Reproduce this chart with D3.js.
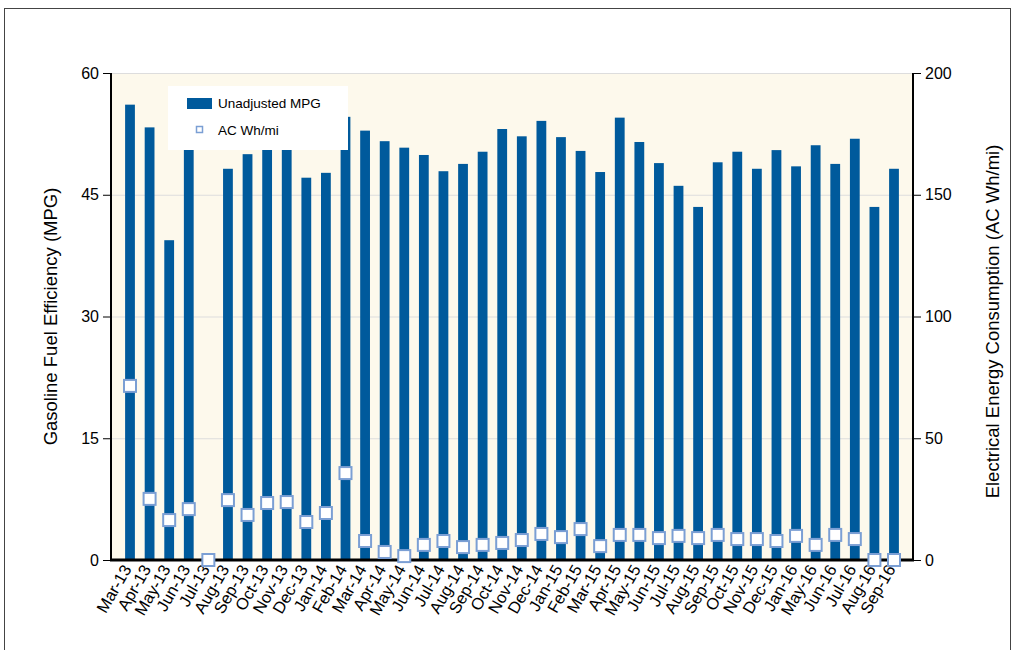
<!DOCTYPE html>
<html>
<head>
<meta charset="utf-8">
<script src="https://cdn.jsdelivr.net/npm/d3@7"></script>
<style>
  body { margin: 0; background: #fff; }
  text { font-family: "Liberation Sans", Arial, sans-serif; }
</style>
</head>
<body>
<svg id="chart" width="1015" height="650"></svg>
<script>
// Months shown on the x axis
const months = ["Mar-13", "Apr-13", "May-13", "Jun-13", "Jul-13", "Aug-13", "Sep-13", "Oct-13",
  "Nov-13", "Dec-13", "Jan-14", "Feb-14", "Mar-14", "Apr-14", "May-14", "Jun-14", "Jul-14",
  "Aug-14", "Sep-14", "Oct-14", "Nov-14", "Dec-14", "Jan-15", "Feb-15", "Mar-15", "Apr-15",
  "May-15", "Jun-15", "Jul-15", "Aug-15", "Sep-15", "Oct-15", "Nov-15", "Dec-15", "Jan-16",
  "May-16", "Jun-16", "Jul-16", "Aug-16", "Sep-16"];

// Unadjusted MPG (null = no bar)
const mpg = [56.1, 53.3, 39.4, 52.0, null, 48.2, 50.0, 51.5, 52.0, 47.1, 47.7, 54.6, 52.9,
  51.6, 50.8, 49.9, 47.9, 48.8, 50.3, 53.1, 52.2, 54.1, 52.1, 50.4, 47.8, 54.5, 51.5, 48.9,
  46.1, 43.5, 49.0, 50.3, 48.2, 50.5, 48.5, 51.1, 48.8, 51.9, 43.5, 48.2];

// AC Wh/mi
const whmi = [71.5, 25.1, 16.4, 20.9, 0, 24.6, 18.5, 23.4, 23.8, 15.6, 19.3, 35.7, 7.8,
  3.3, 1.6, 6.2, 7.8, 5.3, 6.2, 7.0, 8.2, 10.7, 9.4, 12.7, 5.7, 10.3, 10.3, 9.0,
  9.9, 9.0, 10.3, 8.6, 8.6, 7.8, 9.9, 6.2, 10.3, 8.6, 0, 0];

const leftTicks = [0, 15, 30, 45, 60];
const rightTicks = [0, 50, 100, 150, 200];

const barColor = "#005a9c";
const markerStroke = "#7b9fd4";
const font = '"Liberation Sans", Arial, sans-serif';

const svg = d3.select("#chart");
const margin = {left: 111, right: 102, top: 73, bottom: 90};
const W = 1015, H = 650;
const plotW = W - margin.left - margin.right;
const plotH = H - margin.top - margin.bottom;

// outer frame
svg.append("rect")
  .attr("x", 4.5).attr("y", 8.5)
  .attr("width", 1006).attr("height", 660)
  .attr("fill", "none").attr("stroke", "#444").attr("stroke-width", 1);

const g = svg.append("g").attr("transform", `translate(${margin.left},${margin.top})`);

const x = d3.scaleBand().domain(months).range([0, plotW]).paddingInner(0.5).paddingOuter(0.72);
const yL = d3.scaleLinear().domain([0, 60]).range([plotH, 0]);
const yR = d3.scaleLinear().domain([0, 200]).range([plotH, 0]);

// plot background
g.append("rect").attr("width", plotW).attr("height", plotH).attr("fill", "#fdf9ec");

// grid
g.selectAll(".grid").data(leftTicks.slice(1)).enter().append("line")
  .attr("x1", 0).attr("x2", plotW)
  .attr("y1", d => yL(d) + 0.5).attr("y2", d => yL(d) + 0.5)
  .attr("stroke", "#dddddd").attr("stroke-width", 1);

// bars
g.selectAll(".bar").data(months.map((m, i) => ({m, v: mpg[i]})).filter(d => d.v != null))
  .enter().append("rect")
  .attr("x", d => x(d.m)).attr("width", x.bandwidth())
  .attr("y", d => yL(d.v)).attr("height", d => plotH - yL(d.v))
  .attr("fill", barColor);

// axes
const axL = g.append("g").call(d3.axisLeft(yL).tickValues(leftTicks).tickSize(8).tickPadding(4));
const axR = g.append("g").attr("transform", `translate(${plotW},0)`)
  .call(d3.axisRight(yR).tickValues(rightTicks).tickSize(8).tickPadding(4));
[axL, axR].forEach(a => {
  a.select(".domain").attr("stroke", "#000").attr("stroke-width", 2).attr("d", `M0,0V${plotH}`);
  a.selectAll("text").attr("font-size", 16).attr("fill", "#000").style("font-family", font);
  a.selectAll(".tick line").attr("stroke", "#000");
});

const axB = g.append("g").attr("transform", `translate(0,${plotH})`)
  .call(d3.axisBottom(x).tickSize(0).tickPadding(0));
axB.select(".domain").attr("stroke", "#000").attr("stroke-width", 3).attr("d", `M-1,0H${plotW + 1}`);
axB.selectAll("text")
  .attr("font-size", 16.5).attr("fill", "#000")
  .style("font-family", font)
  .attr("text-anchor", "end").attr("dy", null).attr("y", 0)
  .attr("transform", "translate(2,9) rotate(-60)");

// markers
const ms = 12;
g.selectAll(".mk").data(months.map((m, i) => ({m, v: whmi[i]})))
  .enter().append("rect")
  .attr("x", d => x(d.m) + x.bandwidth() / 2 - ms / 2)
  .attr("y", d => yR(d.v) - ms / 2)
  .attr("width", ms).attr("height", ms)
  .attr("fill", "#fff").attr("stroke", markerStroke).attr("stroke-width", 2);

// axis titles
svg.append("text")
  .attr("transform", `translate(57,${margin.top + plotH / 2}) rotate(-90)`)
  .attr("text-anchor", "middle").attr("font-size", 18.5).text("Gasoline Fuel Efficiency (MPG)");
svg.append("text")
  .attr("transform", `translate(999,${margin.top + plotH / 2 + 5}) rotate(-90)`)
  .attr("text-anchor", "middle").attr("font-size", 18.5).text("Electrical Energy Consumption (AC Wh/mi)");

// legend
const lg = svg.append("g").attr("transform", "translate(168,86)");
lg.append("rect").attr("width", 180).attr("height", 64).attr("fill", "#fff");
lg.append("rect").attr("x", 19).attr("y", 12).attr("width", 25).attr("height", 11).attr("fill", barColor);
lg.append("text").attr("x", 50).attr("y", 22).attr("font-size", 13.5).text("Unadjusted MPG");
lg.append("rect").attr("x", 28.5).attr("y", 40.5).attr("width", 6).attr("height", 6)
  .attr("fill", "#fff").attr("stroke", markerStroke).attr("stroke-width", 1.5);
lg.append("text").attr("x", 50).attr("y", 49).attr("font-size", 13.5).text("AC Wh/mi");
</script>
</body>
</html>
